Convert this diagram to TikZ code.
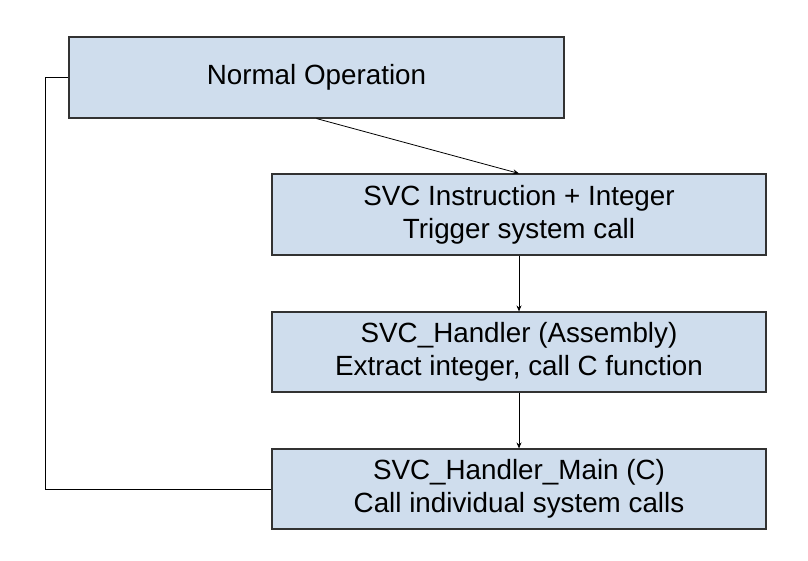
\documentclass[tikz,border=0pt]{standalone}
\usepackage{fontspec}
\setmainfont{Liberation Sans}
\usetikzlibrary{arrows.meta}
\definecolor{boxfill}{RGB}{207,221,237}
\definecolor{boxline}{RGB}{50,50,50}
\tikzset{
  stagebox/.style={draw=boxline,line width=1.1pt,fill=boxfill,align=center,
    inner sep=0pt,font=\fontsize{27.8}{33}\selectfont},
  flowarrow/.style={-{Stealth[length=6pt,width=5pt]},line width=0.8pt},
}

\begin{document}
\begin{tikzpicture}[scale=1.000000,x=1pt,y=-1pt]
\useasboundingbox (0.000000,0.000000) rectangle (808.000000,560.000000);
% Drawing boxes
% Box 1: normal operation
\node[stagebox,minimum width=495pt,minimum height=81pt] (normal) at (316.500000,77.500000) {Normal Operation};
% Box 2: svc instruction
\node[stagebox,minimum width=494pt,minimum height=81pt] (svcinstr) at (519.000000,214.500000) {SVC Instruction + Integer\\Trigger system call};
% Box 3: assembly handler
\node[stagebox,minimum width=494pt,minimum height=80pt] (svchandler) at (519.000000,352.000000) {SVC\_Handler (Assembly)\\Extract integer, call C function};
% Box 4: C handler
\node[stagebox,minimum width=494pt,minimum height=80pt] (svcmain) at (519.000000,489.000000) {SVC\_Handler\_Main (C)\\Call individual system calls};
% Done with boxes; drawing arrows
\draw[flowarrow] (normal.south) -- (svcinstr.north);
\draw[flowarrow] (svcinstr.south) -- (svchandler.north);
\draw[flowarrow] (svchandler.south) -- (svcmain.north);
% Return path back to normal operation
\coordinate (retbottom) at (45.000000,489.000000);
\coordinate (rettop) at (45.000000,77.500000);
\draw[line width=1pt] (svcmain.west) -- (retbottom) -- (rettop) -- (normal.west);
% Done with arrows
\end{tikzpicture}
\end{document}
